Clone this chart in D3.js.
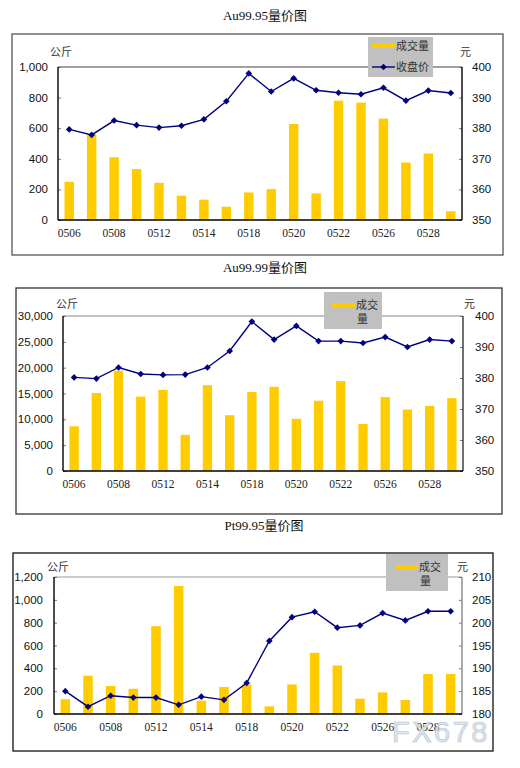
<!DOCTYPE html>
<html>
<head>
<meta charset="utf-8">
<script src="https://cdn.jsdelivr.net/npm/d3@7"></script>
<style>
  html, body { margin: 0; padding: 0; background: #fff; }
  svg { display: block; }
</style>
</head>
<body>
<svg id="chart" width="520" height="768"></svg>
<script>
// ---------- DATA ----------
const categories = ["0506","0507","0508","0511","0512","0513","0514","0515","0518",
                    "0519","0520","0521","0522","0525","0526","0527","0528","0529"];
const tickLabels = ["0506","0508","0512","0514","0518","0520","0522","0526","0528"];

const au9995Titles = "Au99.95量价图";
const au9995Volume = [250, 560, 410, 333, 243, 159, 133, 87, 180, 202, 628, 174, 780, 767, 663, 376, 435, 57];
const au9995Close  = [379.6, 377.8, 382.5, 381.0, 380.2, 380.8, 382.9, 388.8, 397.9, 392.0, 396.3, 392.4, 391.6, 391.1, 393.2, 389.0, 392.3, 391.5];
const au9995LeftTicks  = [0, 200, 400, 600, 800, 1000];
const au9995RightTicks = [350, 360, 370, 380, 390, 400];

const au9999Title = "Au99.99量价图";
const au9999Volume = [8650, 15100, 19400, 14400, 15700, 7000, 16600, 10800, 15300, 16300, 10100, 13600, 17400, 9100, 14300, 11900, 12600, 14100];
const au9999Close  = [380.2, 379.8, 383.4, 381.3, 381.0, 381.1, 383.4, 388.7, 398.2, 392.4, 396.8, 391.9, 391.9, 391.3, 393.2, 390.0, 392.4, 391.9];
const au9999LeftTicks  = [0, 5000, 10000, 15000, 20000, 25000, 30000];
const au9999RightTicks = [350, 360, 370, 380, 390, 400];

const pt9995Title = "Pt99.95量价图";
const pt9995Volume = [130, 335, 245, 221, 769, 1121, 117, 236, 259, 67, 259, 536, 425, 134, 189, 122, 350, 350];
const pt9995Close  = [185.0, 181.6, 184.0, 183.6, 183.6, 182.0, 183.8, 183.1, 186.8, 196.0, 201.2, 202.4, 198.9, 199.4, 202.1, 200.5, 202.5, 202.5];
const pt9995LeftTicks  = [0, 200, 400, 600, 800, 1000, 1200];
const pt9995RightTicks = [180, 185, 190, 195, 200, 205, 210];

const legendVolume = "成交量";
const legendClose = "收盘价";
const leftUnit = "公斤";
const rightUnit = "元";

// ---------- DRAW ----------
const svg = d3.select("#chart");
const BAR = "#FFCC00", LINE = "#000080";
const SANS = "'Liberation Sans', Arial, sans-serif";
const SERIF = "'Liberation Serif', 'Times New Roman', serif";
const CJK = "'Noto Sans CJK SC', sans-serif";

function panel(cfg) {
  const g = svg.append("g");
  // title
  g.append("text").attr("x", cfg.titleX).attr("y", cfg.titleY)
    .attr("text-anchor", "middle").attr("font-family", SERIF + ", " + CJK)
    .attr("font-size", 13).attr("fill", "#111").text(cfg.title);
  // frame
  g.append("rect").attr("x", cfg.frame[0]).attr("y", cfg.frame[1])
    .attr("width", cfg.frame[2]).attr("height", cfg.frame[3])
    .attr("fill", "#fff").attr("stroke", cfg.frameColor).attr("stroke-width", 1.3);

  const p = cfg.plot;
  const x = d3.scaleBand().domain(categories).range([p.l, p.r]).padding(0);
  const yL = d3.scaleLinear().domain(cfg.leftDomain).range([p.b, p.t]);
  const yR = d3.scaleLinear().domain(cfg.rightDomain).range([p.b, p.t]);
  const bw = x.bandwidth() * 0.42;

  // bars
  g.append("g").selectAll("rect").data(cfg.volume).join("rect")
    .attr("x", (d, i) => x(categories[i]) + x.bandwidth() / 2 - bw / 2)
    .attr("y", d => yL(d)).attr("width", bw).attr("height", d => p.b - yL(d))
    .attr("fill", BAR);

  // plot border: top
  g.append("line").attr("x1", p.l).attr("x2", p.r).attr("y1", p.t).attr("y2", p.t)
    .attr("stroke", cfg.topColor).attr("stroke-width", 1.2);

  // left axis (ticks inward)
  const axL = d3.axisRight(yL).tickValues(cfg.leftTicks).tickSize(3).tickFormat("");
  const gl = g.append("g").attr("transform", `translate(${p.l},0)`).call(axL);
  gl.select(".domain").remove();
  gl.selectAll(".tick line").attr("stroke", "#777");
  g.append("line").attr("x1", p.l).attr("x2", p.l).attr("y1", p.t).attr("y2", p.b)
    .attr("stroke", "#000").attr("stroke-width", 1.4);
  g.append("g").selectAll("text").data(cfg.leftTicks).join("text")
    .attr("x", cfg.leftLabelX).attr("y", d => yL(d)).attr("dy", "0.35em")
    .attr("text-anchor", "end").attr("font-family", SANS).attr("font-size", 11.5)
    .attr("fill", "#111").text(d => d3.format(",")(d));

  // right axis (ticks inward)
  const axR = d3.axisLeft(yR).tickValues(cfg.rightTicks).tickSize(3).tickFormat("");
  const gr = g.append("g").attr("transform", `translate(${p.r},0)`).call(axR);
  gr.select(".domain").remove();
  gr.selectAll(".tick line").attr("stroke", "#777");
  g.append("line").attr("x1", p.r).attr("x2", p.r).attr("y1", p.t).attr("y2", p.b)
    .attr("stroke", cfg.rightColor).attr("stroke-width", 1.4);
  g.append("g").selectAll("text").data(cfg.rightTicks).join("text")
    .attr("x", cfg.rightLabelX).attr("y", d => yR(d)).attr("dy", "0.35em")
    .attr("text-anchor", "start").attr("font-family", SANS).attr("font-size", 11.5)
    .attr("fill", "#111").text(d => d);

  // bottom axis
  g.append("line").attr("x1", p.l).attr("x2", p.r).attr("y1", p.b).attr("y2", p.b)
    .attr("stroke", "#000").attr("stroke-width", 1.4);
  g.append("g").selectAll("text").data(tickLabels).join("text")
    .attr("x", d => x(d) + x.bandwidth() / 2).attr("y", p.b + 17)
    .attr("text-anchor", "middle").attr("font-family", SERIF).attr("font-size", 11.5)
    .attr("fill", "#222").text(d => d);

  // line
  const line = d3.line().x((d, i) => x(categories[i]) + x.bandwidth() / 2).y(d => yR(d));
  g.append("path").datum(cfg.close).attr("d", line)
    .attr("fill", "none").attr("stroke", LINE).attr("stroke-width", 1.4);
  g.append("g").selectAll("path").data(cfg.close).join("path")
    .attr("d", d3.symbol().type(d3.symbolSquare).size(22))
    .attr("transform", (d, i) => `translate(${x(categories[i]) + x.bandwidth() / 2},${yR(d)}) rotate(45)`)
    .attr("fill", LINE);

  // unit labels
  g.append("text").attr("x", cfg.leftUnitPos[0]).attr("y", cfg.leftUnitPos[1])
    .attr("font-family", CJK).attr("font-size", 11).attr("fill", "#333").text(leftUnit);
  g.append("text").attr("x", cfg.rightUnitPos[0]).attr("y", cfg.rightUnitPos[1])
    .attr("font-family", CJK).attr("font-size", 11).attr("fill", "#333").text(rightUnit);

  // legend
  const L = cfg.legend;
  g.append("rect").attr("x", L.box[0]).attr("y", L.box[1]).attr("width", L.box[2]).attr("height", L.box[3])
    .attr("fill", "#C0C0C0");
  g.append("line").attr("x1", L.sw[0]).attr("x2", L.sw[1]).attr("y1", L.sw[2]).attr("y2", L.sw[2])
    .attr("stroke", BAR).attr("stroke-width", 4);
  if (L.full) {
    g.append("text").attr("x", L.tx).attr("y", L.sw[2]).attr("dy", "0.35em")
      .attr("font-family", CJK).attr("font-size", 11).attr("fill", "#333").text(legendVolume);
    g.append("line").attr("x1", L.sw[0]).attr("x2", L.sw[1]).attr("y1", L.ly).attr("y2", L.ly)
      .attr("stroke", LINE).attr("stroke-width", 1.4);
    g.append("path").attr("d", d3.symbol().type(d3.symbolSquare).size(22))
      .attr("transform", `translate(${(L.sw[0] + L.sw[1]) / 2},${L.ly}) rotate(45)`).attr("fill", LINE);
    g.append("text").attr("x", L.tx).attr("y", L.ly).attr("dy", "0.35em")
      .attr("font-family", CJK).attr("font-size", 11).attr("fill", "#333").text(legendClose);
  } else {
    g.append("text").attr("x", L.tx).attr("y", L.sw[2]).attr("dy", "0.35em")
      .attr("font-family", CJK).attr("font-size", 11).attr("fill", "#333").text(legendVolume.slice(0, 2));
    g.append("text").attr("x", L.tx + 1).attr("y", L.sw[2] + 14).attr("dy", "0.35em")
      .attr("font-family", CJK).attr("font-size", 11).attr("fill", "#333").text(legendVolume.slice(2));
  }
}

panel({
  title: au9995Titles, titleX: 265, titleY: 20,
  frame: [12, 34, 491, 221], frameColor: "#555",
  plot: { l: 58, t: 67, r: 462, b: 220 },
  leftDomain: [0, 1000], rightDomain: [350, 400],
  leftTicks: au9995LeftTicks, rightTicks: au9995RightTicks,
  volume: au9995Volume, close: au9995Close,
  leftLabelX: 48, rightLabelX: 472,
  topColor: "#444", rightColor: "#000",
  leftUnitPos: [50, 56], rightUnitPos: [460, 56],
  legend: { full: true, box: [368, 37, 65, 40], sw: [372, 395, 46], tx: 396, ly: 67 }
});

panel({
  title: au9999Title, titleX: 265, titleY: 272,
  frame: [16, 288, 486, 226], frameColor: "#333",
  plot: { l: 63, t: 316, r: 463, b: 471 },
  leftDomain: [0, 30000], rightDomain: [350, 400],
  leftTicks: au9999LeftTicks, rightTicks: au9999RightTicks,
  volume: au9999Volume, close: au9999Close,
  leftLabelX: 53, rightLabelX: 475,
  topColor: "#888", rightColor: "#333",
  leftUnitPos: [56, 308], rightUnitPos: [464, 308],
  legend: { full: false, box: [324, 292, 58, 37], sw: [332, 355, 305], tx: 356 }
});

panel({
  title: pt9995Title, titleX: 264, titleY: 530,
  frame: [13, 553, 480, 198], frameColor: "#111",
  plot: { l: 54, t: 577, r: 462, b: 714 },
  leftDomain: [0, 1200], rightDomain: [180, 210],
  leftTicks: pt9995LeftTicks, rightTicks: pt9995RightTicks,
  volume: pt9995Volume, close: pt9995Close,
  leftLabelX: 43, rightLabelX: 472,
  topColor: "#999", rightColor: "#888",
  leftUnitPos: [47, 571], rightUnitPos: [457, 571],
  legend: { full: false, box: [386, 554, 62, 37], sw: [396, 418, 567], tx: 419 }
});

// watermark
svg.append("text").attr("x", 392).attr("y", 742)
  .attr("font-family", SANS).attr("font-size", 29).attr("letter-spacing", 2.5)
  .attr("fill", "#d9e5f1").attr("stroke", "#aeb9c6").attr("stroke-width", 0.6)
  .attr("opacity", 0.9).text("FX678");
</script>
</body>
</html>
